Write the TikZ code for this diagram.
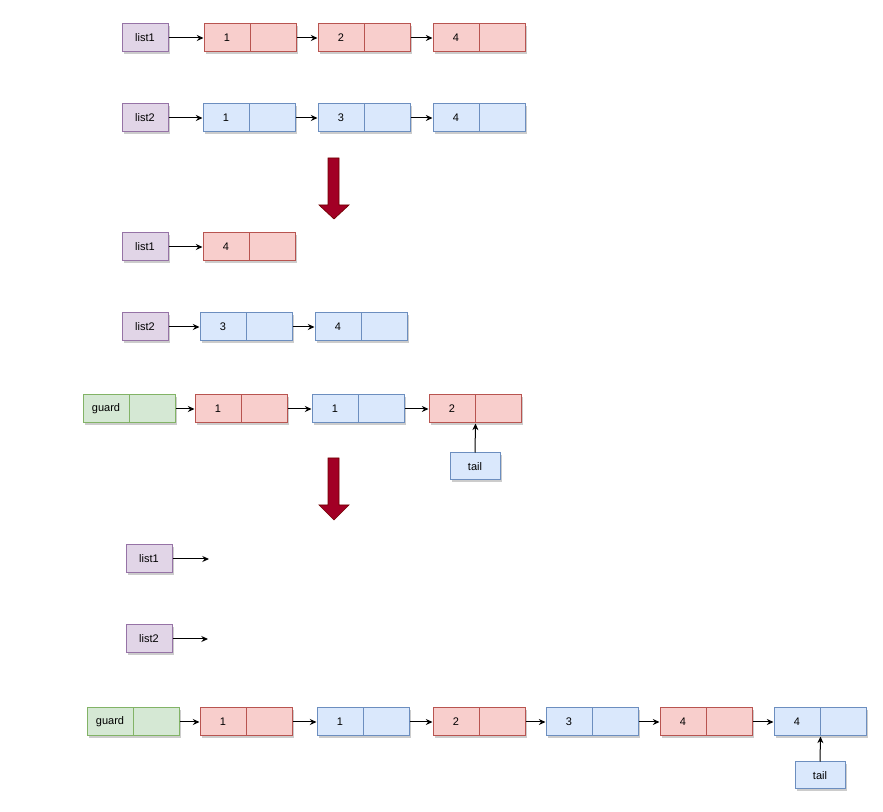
\documentclass[tikz,border=0pt]{standalone}
\usepackage{fontspec}
\setmainfont{Liberation Sans}
\usetikzlibrary{shadows,arrows.meta}
\definecolor{redF}{HTML}{F8CECC}
\definecolor{redD}{HTML}{B85450}
\definecolor{bluF}{HTML}{DAE8FC}
\definecolor{bluD}{HTML}{6C8EBF}
\definecolor{purF}{HTML}{E1D5E7}
\definecolor{purD}{HTML}{9673A6}
\definecolor{grnF}{HTML}{D5E8D4}
\definecolor{grnD}{HTML}{82B366}
\definecolor{bigF}{HTML}{A20025}
\definecolor{bigD}{HTML}{6F0000}
\tikzset{
  cell/.style={draw, line width=0.75pt, minimum width=34.5pt, minimum height=21pt,
    inner sep=0pt, font=\fontsize{8.25}{10}\selectfont,
    drop shadow={shadow xshift=1.5pt, shadow yshift=-1.5pt, opacity=0.2, fill=black}},
  redc/.style={cell, fill=redF, draw=redD},
  bluc/.style={cell, fill=bluF, draw=bluD},
  purc/.style={cell, fill=purF, draw=purD},
  grnc/.style={cell, fill=grnF, draw=grnD},
  tailbox/.style={bluc, minimum width=37.5pt, minimum height=20.25pt},
  link/.style={line width=0.75pt, -{Stealth[length=5pt,width=4.5pt]}},
  bigarrow/.style={fill=bigF, draw=bigD, line width=0.5pt}
}
\newcommand{\lnode}[5]{%
  \node[#5] (#1) at (#2+23,#3) {#4};
  \node[#5] (#1r) at (#2+69,#3) {};
}
\begin{document}
\begin{tikzpicture}[x=0.75pt,y=-0.75pt]
\useasboundingbox (0,0) rectangle (883,812);
% Row 1
\node[purc] (l1a) at (145,38) {list1};
\lnode{a1}{204}{38}{1}{redc}
\lnode{a2}{318}{38}{2}{redc}
\lnode{a3}{433}{38}{4}{redc}
\draw[link] (l1a.east) -- (a1.west);
\draw[link] (a1r.east) -- (a2.west);
\draw[link] (a2r.east) -- (a3.west);
% Row 2
\node[purc] (l2a) at (145,118) {list2};
\lnode{b1}{203}{118}{1}{bluc}
\lnode{b2}{318}{118}{3}{bluc}
\lnode{b3}{433}{118}{4}{bluc}
\draw[link] (l2a.east) -- (b1.west);
\draw[link] (b1r.east) -- (b2.west);
\draw[link] (b2r.east) -- (b3.west);
% big arrow 1
\draw[bigarrow] (328,158) -- (339,158) -- (339,205) -- (349,205) -- (334,219) -- (319,205) -- (328,205) -- cycle;
% Row 3
\node[purc] (l1b) at (145,247) {list1};
\lnode{c1}{203}{247}{4}{redc}
\draw[link] (l1b.east) -- (c1.west);
% Row 4
\node[purc] (l2b) at (145,327) {list2};
\lnode{d1}{200}{327}{3}{bluc}
\lnode{d2}{315}{327}{4}{bluc}
\draw[link] (l2b.east) -- (d1.west);
\draw[link] (d1r.east) -- (d2.west);
% Row 5
\lnode{g1}{83}{409}{guard}{grnc}
\lnode{e1}{195}{409}{1}{redc}
\lnode{e2}{312}{409}{1}{bluc}
\lnode{e3}{429}{409}{2}{redc}
\draw[link] (g1r.east) -- (e1.west);
\draw[link] (e1r.east) -- (e2.west);
\draw[link] (e2r.east) -- (e3.west);
\node[tailbox] (t1) at (475,466.5) {tail};
\draw[link] (t1.north) -- (e3.south east);
% big arrow 2
\draw[bigarrow] (328,458) -- (339,458) -- (339,505) -- (349,505) -- (334,520) -- (319,505) -- (328,505) -- cycle;
% Row 6
\node[purc] (l1c) at (149,559) {list1};
\coordinate (n1) at (209,559);
\draw[link] (l1c.east) -- (n1);
\node[purc] (l2c) at (149,639) {list2};
\coordinate (n2) at (208,639);
\draw[link] (l2c.east) -- (n2);
% Row 7
\lnode{g2}{87}{722}{guard}{grnc}
\lnode{f1}{200}{722}{1}{redc}
\lnode{f2}{317}{722}{1}{bluc}
\lnode{f3}{433}{722}{2}{redc}
\lnode{f4}{546}{722}{3}{bluc}
\lnode{f5}{660}{722}{4}{redc}
\lnode{f6}{774}{722}{4}{bluc}
\draw[link] (g2r.east) -- (f1.west);
\draw[link] (f1r.east) -- (f2.west);
\draw[link] (f2r.east) -- (f3.west);
\draw[link] (f3r.east) -- (f4.west);
\draw[link] (f4r.east) -- (f5.west);
\draw[link] (f5r.east) -- (f6.west);
\node[tailbox] (t2) at (820,775.5) {tail};
\draw[link] (t2.north) -- (f6.south east);
\end{tikzpicture}
\end{document}
